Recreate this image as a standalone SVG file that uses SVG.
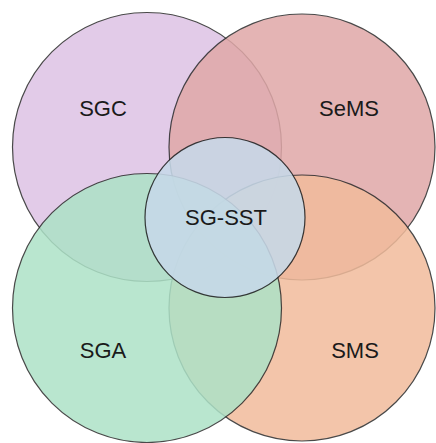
<svg xmlns="http://www.w3.org/2000/svg" width="436" height="443" viewBox="0 0 436 443">
  <style>
    .c { stroke: #2a2a2a; stroke-width: 1.2; opacity: 0.85; }
    .t { font-family: "Liberation Sans", Arial, sans-serif; font-size: 22px; fill: #1a1a1a; text-anchor: middle; }
  </style>
  <rect width="436" height="443" fill="#ffffff"/>
  <g id="SGC">
    <circle class="c" cx="147" cy="147" r="134.5" fill="#ddc3e4"/>
    <text class="t" x="103" y="116">SGC</text>
  </g>
  <g id="SeMS">
    <circle class="c" cx="302" cy="147" r="133" fill="#e0a8a8"/>
    <text class="t" x="349" y="116">SeMS</text>
  </g>
  <g id="SMS">
    <circle class="c" cx="302" cy="308" r="133" fill="#f2bc9c"/>
    <text class="t" x="355" y="358">SMS</text>
  </g>
  <g id="SGA">
    <circle class="c" cx="147" cy="308" r="134.5" fill="#ade2c7"/>
    <text class="t" x="103" y="358">SGA</text>
  </g>
  <g id="SG-SST">
    <circle cx="225" cy="217.5" r="80" fill="#c6d8e8" fill-opacity="0.88" stroke="#1a1a1a" stroke-width="1.2" stroke-opacity="0.85"/>
    <text class="t" x="226" y="225">SG-SST</text>
  </g>
  <g id="connectors"/>
</svg>
